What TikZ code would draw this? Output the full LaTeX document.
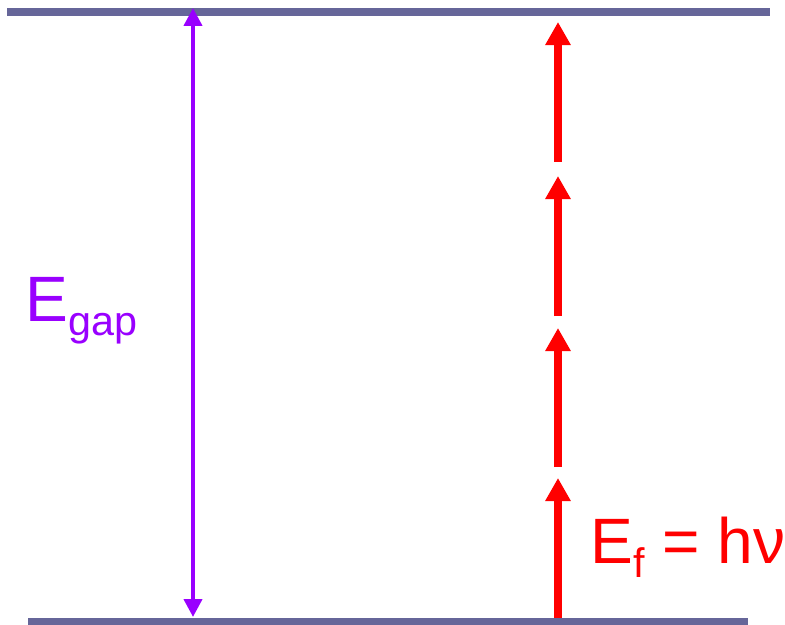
\documentclass[tikz,border=0pt]{standalone}
\usepackage{fontspec}
\setmainfont{Liberation Sans}
\usetikzlibrary{arrows.meta}
\definecolor{levelblue}{RGB}{102,102,153}
\definecolor{gappurple}{RGB}{153,0,255}
\newcommand{\lowsub}[1]{\raisebox{-8.5pt}{\fontsize{23.5}{28}\selectfont #1}}
\begin{document}
\begin{tikzpicture}[
    x=0.02cm, y=-0.02cm,
    level/.style={draw=levelblue, line width=4.4pt},
    gaparr/.style={draw=gappurple, line width=2.3pt, {Triangle[length=10.2pt, width=10.2pt]}-{Triangle[length=10.2pt, width=10.2pt]}},
    photon/.style={draw=red, line width=4.5pt, -{Triangle[length=13.1pt, width=13.7pt]}},
    lbl/.style={inner sep=0pt, anchor=base west, font=\fontsize{36.5}{44}\selectfont},
]
    \useasboundingbox (0,0) rectangle (785,625);

    % Energy levels
    \coordinate (topL) at (7,12);
    \coordinate (topR) at (770,12);
    \coordinate (botL) at (28,621.5);
    \coordinate (botR) at (748,621.5);
    \draw[level] (topL) -- (topR);
    \draw[level] (botL) -- (botR);

    % Band gap
    \coordinate (gapTop) at (193,8);
    \coordinate (gapBot) at (193,617);
    \draw[gaparr] (gapBot) -- (gapTop);
    \node[lbl, text=gappurple] (egap) at (25,321) {E\lowsub{gap}};

    % Photon steps
    \coordinate (p0) at (558,618);
    \coordinate (t1) at (558,478);
    \coordinate (p1) at (558,467);
    \coordinate (t2) at (558,328);
    \coordinate (p2) at (558,316);
    \coordinate (t3) at (558,176);
    \coordinate (p3) at (558,162);
    \coordinate (t4) at (558,22);
    \draw[photon] (p0) -- (t1);
    \draw[photon] (p1) -- (t2);
    \draw[photon] (p2) -- (t3);
    \draw[photon] (p3) -- (t4);
    \node[lbl, text=red] (ef) at (590,563) {E\lowsub{f} = hν};
\end{tikzpicture}
\end{document}
